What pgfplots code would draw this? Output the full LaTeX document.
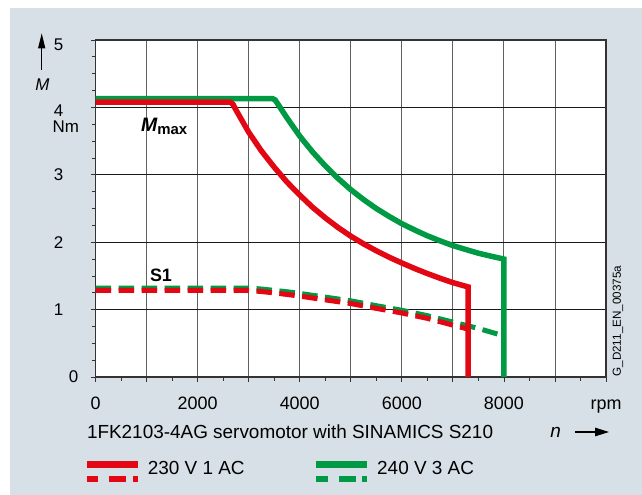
\documentclass[border=0pt]{standalone}
\usepackage{pgfplots}
\pgfplotsset{compat=1.18}
\usetikzlibrary{arrows.meta}
\usepackage{fontspec}
\setmainfont{Liberation Sans}
\definecolor{bg}{RGB}{214,224,230}
\definecolor{sred}{RGB}{227,6,19}
\definecolor{sgreen}{RGB}{0,153,68}
\begin{document}
\begin{tikzpicture}
\path[use as bounding box] (0bp,0bp) rectangle (642bp,495bp);
\fill[bg] (10bp,0bp) rectangle (642bp,487bp);
\begin{axis}[
  at={(95.5bp,118bp)}, anchor=south west,
  scale only axis, width=510.5bp, height=337bp,
  xmin=0, xmax=10000, ymin=0, ymax=5,
  axis background/.style={fill=white},
  axis line style={black!80, line width=1.1bp},
  tick pos=left, tick align=outside,
  major tick length=4.5bp, minor tick length=3.5bp,
  tick style={black!80, line width=0.8bp},
  xtick={0,1000,...,10000},
  xticklabels={0,,2000,,4000,,6000,,8000,,rpm},
  minor xtick={500,1500,...,9500},
  ytick={0,1,...,5},
  yticklabels={{\makebox[0pt][l]{\kern5.5bp 0}},{\makebox[0pt][r]{1}},{\makebox[0pt][r]{2}},{\makebox[0pt][r]{3}},{\makebox[0pt][r]{\raisebox{-3bp}[\height][\depth]{4}}},{\makebox[0pt][r]{\raisebox{-5bp}[\height][\depth]{5}}}},
  minor y tick num=3,
  xmajorgrids, ymajorgrids,
  x grid style={black!62, line width=0.9bp},
  y grid style={black!90, line width=0.8bp},
  scaled x ticks=false,
  xticklabel style={font=\fontsize{18}{21.6}\selectfont, inner sep=0pt, anchor=north, text height=13bp, text depth=4bp, yshift=-14.5bp},
  yticklabel style={font=\fontsize{17}{20.4}\selectfont, inner sep=0pt, anchor=east, xshift=-27bp},
  legend columns=2, legend cell align=left,
  legend style={at={(-0.02331,-0.2501)}, anchor=north west, draw=none, fill=none,
    inner sep=0pt, outer sep=0pt, font=\fontsize{19}{22.8}\selectfont,
    nodes={inner sep=0pt},
    /tikz/every odd column/.style={column sep=6.8bp},
    /tikz/every even column/.style={column sep=68.4bp}},
]
% S1 curves (dashed)
\addplot[forget plot, sgreen, line width=5bp, dash pattern=on 15.5bp off 7.5bp] coordinates {
(0,1.32) (3000,1.32) (3250,1.305) (3500,1.285) (3750,1.265) (4000,1.24) (4500,1.185) (5000,1.13) (5500,1.058) (6000,0.99) (6500,0.91) (7000,0.815) (7500,0.72) (8000,0.61)};
\addplot[forget plot, sred, line width=5bp, dash pattern=on 15.5bp off 7.5bp] coordinates {
(0,1.285) (3000,1.285) (3250,1.268) (3500,1.248) (3750,1.225) (4000,1.20) (4500,1.145) (5000,1.09) (5500,1.018) (6000,0.95) (6500,0.87) (7000,0.77) (7300,0.71)};
% Mmax curves
\addplot[forget plot, sgreen, line width=5.5bp] coordinates {
(0,4.13) (3470,4.13) (3520,4.11) (3750,3.845) (4000,3.575) (4250,3.341) (4500,3.133) (4750,2.947) (5000,2.780) (5250,2.633) (5500,2.500) (5750,2.383) (6000,2.275) (6250,2.182) (6500,2.095) (6750,2.020) (7000,1.950) (7250,1.892) (7500,1.837) (7750,1.792) (8000,1.750) (8000,0)};
\addplot[forget plot, sred, line width=5.5bp] coordinates {
(0,4.08) (2630,4.08) (2690,4.05) (2750,3.964) (3000,3.633) (3250,3.354) (3500,3.114) (3750,2.893) (4000,2.700) (4250,2.520) (4500,2.362) (4750,2.219) (5000,2.090) (5250,1.976) (5500,1.873) (5750,1.778) (6000,1.692) (6250,1.610) (6500,1.535) (6750,1.465) (7000,1.400) (7300,1.336) (7300,0)};
\addlegendimage{legend image code/.code={
  \draw[sred, line width=6.4bp] (0bp,4.3bp) -- (51bp,4.3bp);
  \draw[sred, line width=5.8bp, dash pattern=on 11.5bp off 10.8bp on 17.2bp off 6.3bp on 5.5bp off 20bp] (0bp,-10.1bp) -- (51bp,-10.1bp);}}
\addlegendentry{230 V 1 AC}
\addlegendimage{legend image code/.code={
  \draw[sgreen, line width=6.4bp] (0bp,4.3bp) -- (51bp,4.3bp);
  \draw[sgreen, line width=5.8bp, dash pattern=on 11.5bp off 10.8bp on 17.2bp off 6.3bp on 5.5bp off 20bp] (0bp,-10.1bp) -- (51bp,-10.1bp);}}
\addlegendentry{240 V 3 AC}
\end{axis}
\draw[-{Triangle[length=15bp,width=7bp]}, line width=1.1bp] (41.7bp,425bp) -- (41.7bp,461.7bp);
\node[inner sep=0pt, font=\fontsize{17}{20}\selectfont\itshape] at (42.5bp,410bp) {M};
\node[inner sep=0pt, font=\fontsize{17}{20}\selectfont] at (65.8bp,368.5bp) {Nm};
\node[inner sep=0pt, font=\fontsize{18}{20}\selectfont\bfseries] at (161bp,220bp) {S1};
\node[anchor=base west, inner sep=0pt] at (141bp,363bp) {{\fontsize{19.5}{20}\selectfont\bfseries\itshape M}\raisebox{-3bp}{\fontsize{15}{16}\selectfont\bfseries max}};
\node[anchor=west, inner sep=0pt, font=\fontsize{19}{22.8}\selectfont] at (86.8bp,63bp) {1FK2103-4AG servomotor with SINAMICS S210};
\node[inner sep=0pt, font=\fontsize{19}{22.8}\selectfont\itshape] at (555.7bp,63bp) {n};
\draw[-{Triangle[length=14bp,width=8.5bp]}, line width=1.1bp] (575bp,63bp) -- (609bp,63bp);
\node[rotate=90, anchor=west, inner sep=0pt, font=\fontsize{11.7}{14}\selectfont] at (618bp,118.3bp) {G\_D211\_EN\_00375a};
\end{tikzpicture}
\end{document}
